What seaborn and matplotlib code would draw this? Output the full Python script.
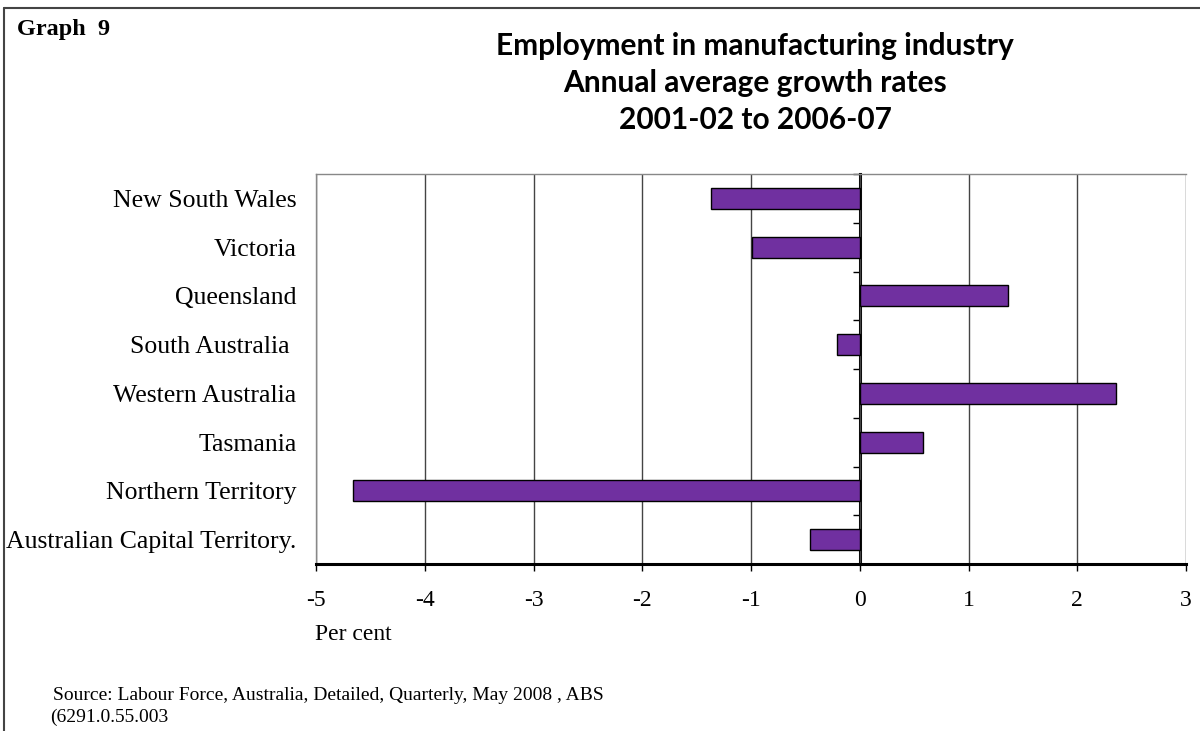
import matplotlib
matplotlib.use("Agg")
import matplotlib.pyplot as plt
import seaborn as sns
import pandas as pd
from matplotlib.lines import Line2D

states = [
    "New South Wales",
    "Victoria",
    "Queensland",
    "South Australia ",
    "Western Australia",
    "Tasmania",
    "Northern Territory",
    "Australian Capital Territory.",
]
growth = [-1.37, -0.99, 1.36, -0.21, 2.36, 0.58, -4.66, -0.46]
x_ticks = [-5, -4, -3, -2, -1, 0, 1, 2, 3]

title_lines = [
    "Employment in manufacturing industry",
    "Annual average growth rates",
    "2001-02 to 2006-07",
]

df = pd.DataFrame({"state": states, "growth": growth})

sns.set_style("white")
plt.rcParams.update({"text.color": "black", "xtick.color": "black",
                     "ytick.color": "black", "axes.labelcolor": "black"})
serif = ["Liberation Serif", "DejaVu Serif"]

fig = plt.figure(figsize=(12, 7.31), dpi=100)
W, H = 1200, 731
ax = fig.add_axes([316 / W, 1 - 564 / H, (1186 - 316) / W, (564 - 174) / H])

sns.barplot(data=df, x="growth", y="state", orient="h", color="#7030A0",
            saturation=1, edgecolor="black", linewidth=1.0, width=0.43, ax=ax)

ax.set_xlim(x_ticks[0], x_ticks[-1])
ax.set_ylim(len(states) - 0.5, -0.5)
ax.set_xticks(x_ticks)
ax.set_xticklabels([str(t) for t in x_ticks], fontfamily=serif, fontsize=17)
ax.set_yticks(range(len(states)))
ax.set_yticklabels(states, fontfamily=serif, fontsize=18.5)
ax.set_xlabel("")
ax.set_ylabel("")

# vertical gridlines
ax.grid(axis="x", color="#444444", linewidth=1.0)
ax.grid(axis="y", visible=False)
ax.set_axisbelow(True)

for side in ("top", "left"):
    ax.spines[side].set_color("#888888")
    ax.spines[side].set_linewidth(1.0)
ax.spines["right"].set_visible(False)
ax.spines["bottom"].set_color("black")
ax.spines["bottom"].set_linewidth(2.2)

ax.tick_params(axis="x", direction="out", length=5, width=1, color="black",
               pad=14, bottom=True)
ax.tick_params(axis="y", length=0, pad=14)

# zero axis with category separators
zero = ax.secondary_yaxis((0 - x_ticks[0]) / (x_ticks[-1] - x_ticks[0]))
zero.set_ylim(ax.get_ylim())
zero.set_yticks([i - 0.5 for i in range(len(states) + 1)])
zero.set_yticklabels([])
zero.tick_params(axis="y", direction="in", length=5, width=1, color="black")
for sp in zero.spines.values():
    sp.set_color("black")
    sp.set_linewidth(2.2)

# outer frame lines
fig.add_artist(Line2D([4 / W, 1.0], [1 - 8 / H, 1 - 8 / H], transform=fig.transFigure,
                      color="#444444", linewidth=1.5))
fig.add_artist(Line2D([4 / W, 4 / W], [0, 1 - 8 / H], transform=fig.transFigure,
                      color="#444444", linewidth=1.5))

fig.text(17 / W, 1 - 30 / H, "Graph  9", fontfamily=serif, fontweight="bold",
         fontsize=17.5, ha="left", va="center")

for i, line in enumerate(title_lines):
    fig.text(755 / W, 1 - (46 + 37 * i) / H, line, fontfamily=["Lato", "DejaVu Sans"],
             fontweight="bold", fontsize=21.5, ha="center", va="center")

fig.text(315 / W, 1 - 635 / H, "Per cent", fontfamily=serif, fontsize=17,
         ha="left", va="center")
fig.text(53 / W, 1 - 695 / H,
         "Source: Labour Force, Australia, Detailed, Quarterly, May 2008 , ABS",
         fontfamily=serif, fontsize=14, ha="left", va="center")
fig.text(50 / W, 1 - 717 / H, "(6291.0.55.003", fontfamily=serif, fontsize=14,
         ha="left", va="center")

fig.savefig("out.png", dpi=100)
